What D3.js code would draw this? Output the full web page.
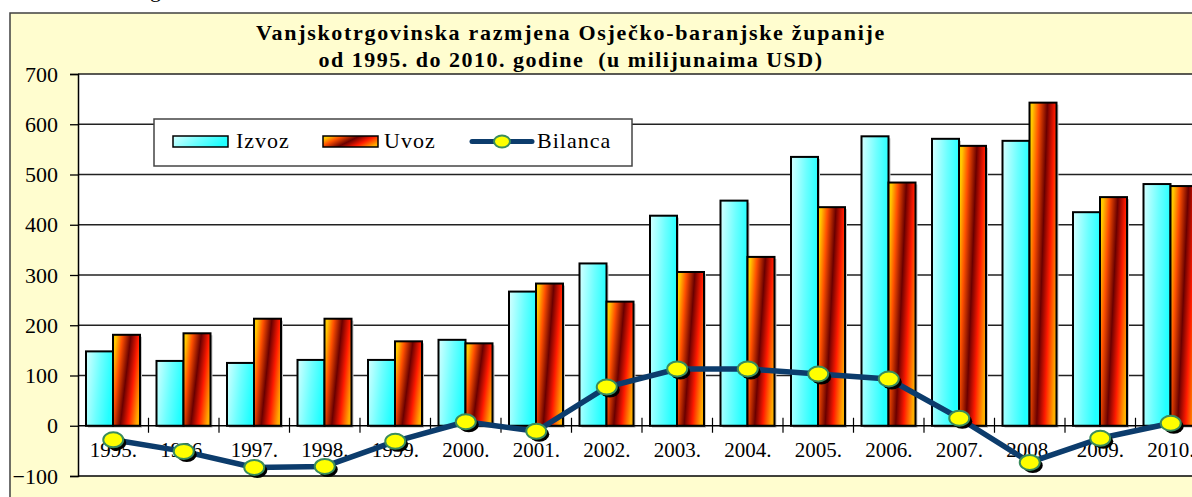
<!DOCTYPE html>
<html>
<head>
<meta charset="utf-8">
<script src="https://cdn.jsdelivr.net/npm/d3@7"></script>
<style>
  html, body { margin: 0; padding: 0; background: #fff; overflow: hidden; }
  text { font-family: "Liberation Serif", "Times New Roman", serif; white-space: pre; }
</style>
</head>
<body>
<svg id="chart" width="1192" height="497"></svg>
<script>
const years = ['1995.', '1996.', '1997.', '1998.', '1999.', '2000.', '2001.', '2002.',
  '2003.', '2004.', '2005.', '2006.', '2007.', '2008.', '2009.', '2010.']
const izvoz = [148, 129, 125, 131, 131, 171, 267, 323, 418, 448, 535, 576, 571, 567, 425, 481]
const uvoz = [181, 184, 213, 213, 168, 164, 283, 247, 306, 336, 435, 484, 557, 643, 455, 477]
const bilanca = [-28, -51, -83, -81, -31, 8, -11, 77, 113, 113, 103, 93, 15, -73, -25, 5]
const yTicks = [-100, 0, 100, 200, 300, 400, 500, 600, 700]
const titleLines = ['Vanjskotrgovinska razmjena Osječko-baranjske županije',
  'od 1995. do 2010. godine  (u milijunaima USD)']
const seriesNames = ['Izvoz', 'Uvoz', 'Bilanca']

const svg = d3.select('#chart')
const defs = svg.append('defs')

// gradients for the bars
const gIz = defs.append('linearGradient').attr('id', 'gIzvoz')
  .attr('x1', 0).attr('y1', 0).attr('x2', 1).attr('y2', 0.25)
gIz.append('stop').attr('offset', 0).attr('stop-color', '#d6ffff')
gIz.append('stop').attr('offset', 0.55).attr('stop-color', '#6cffff')
gIz.append('stop').attr('offset', 1).attr('stop-color', '#22ffff')

const gUv = defs.append('linearGradient').attr('id', 'gUvoz')
  .attr('x1', 0).attr('y1', 0.3).attr('x2', 1).attr('y2', 0.7)
gUv.append('stop').attr('offset', 0).attr('stop-color', '#ffc800')
gUv.append('stop').attr('offset', 0.2).attr('stop-color', '#ff5000')
gUv.append('stop').attr('offset', 0.47).attr('stop-color', '#6a0000')
gUv.append('stop').attr('offset', 0.72).attr('stop-color', '#ff1a00')
gUv.append('stop').attr('offset', 1).attr('stop-color', '#ffae00')

// outer chart area
svg.append('rect')
  .attr('x', 10).attr('y', 13).attr('width', 1200).attr('height', 500)
  .attr('fill', '#fffdcf').attr('stroke', '#404040').attr('stroke-width', 1.5)

// bit of text from the page above the chart
svg.append('text').attr('x', 150).attr('y', -3).attr('font-size', 22).text('g')

const pLeft = 78, pRight = 1206, pTop = 74, pBottom = 476

const x = d3.scaleBand().domain(years).range([pLeft, pRight])
const xs = d3.scaleBand().domain(['Izvoz', 'Uvoz']).range([8, x.bandwidth() - 8.5])
const y = d3.scaleLinear().domain([-100, 700]).range([pBottom, pTop])

svg.append('rect')
  .attr('x', pLeft).attr('y', pTop).attr('width', pRight - pLeft).attr('height', pBottom - pTop)
  .attr('fill', '#fff')

// grid lines
svg.append('g')
  .selectAll('line')
  .data(yTicks.filter(d => d > 0))
  .join('line')
  .attr('x1', pLeft).attr('x2', pRight)
  .attr('y1', d => y(d)).attr('y2', d => y(d))
  .attr('stroke', '#222').attr('stroke-width', 1.3)

// title
svg.append('g')
  .selectAll('text')
  .data(titleLines)
  .join('text')
  .attr('x', 571)
  .attr('y', (d, i) => 40 + i * 27)
  .attr('text-anchor', 'middle')
  .attr('font-size', 22).attr('font-weight', 'bold')
  .attr('letter-spacing', (d, i) => i === 0 ? 1.7 : 1.5)
  .text(d => d)

// bars
const rows = years.map((yr, i) => ({ yr, Izvoz: izvoz[i], Uvoz: uvoz[i] }))
const bars = svg.append('g')
  .selectAll('g')
  .data(rows)
  .join('g')
  .attr('transform', d => `translate(${x(d.yr)},0)`)

const barData = d => ['Izvoz', 'Uvoz'].map(k => ({ k, v: d[k] }))

bars.selectAll('rect.shadow')
  .data(barData)
  .join('rect')
  .attr('class', 'shadow')
  .attr('x', d => xs(d.k) + 2).attr('y', d => y(d.v) + 2)
  .attr('width', xs.bandwidth()).attr('height', d => y(0) - y(d.v))
  .attr('fill', '#c8c8c8')

bars.selectAll('rect.bar')
  .data(barData)
  .join('rect')
  .attr('class', 'bar')
  .attr('x', d => xs(d.k)).attr('y', d => y(d.v))
  .attr('width', xs.bandwidth()).attr('height', d => y(0) - y(d.v))
  .attr('fill', d => d.k === 'Izvoz' ? 'url(#gIzvoz)' : 'url(#gUvoz)')
  .attr('stroke', '#000').attr('stroke-width', 2)

// y axis
const yAxis = svg.append('g')
  .attr('transform', `translate(${pLeft},0)`)
  .call(d3.axisLeft(y).tickValues(yTicks).tickSize(8).tickPadding(12).tickFormat(d3.format('d')))
yAxis.select('.domain').attr('stroke', '#000').attr('stroke-width', 1.5)
yAxis.selectAll('.tick line').attr('stroke', '#000').attr('stroke-width', 1.3)
yAxis.selectAll('.tick text')
  .attr('font-size', 22).attr('fill', '#000')

// bottom border of plot
svg.append('line')
  .attr('x1', pLeft).attr('x2', pRight).attr('y1', pBottom).attr('y2', pBottom)
  .attr('stroke', '#000').attr('stroke-width', 1.5)

// category axis on the zero line
svg.append('line')
  .attr('x1', pLeft).attr('x2', pRight).attr('y1', y(0)).attr('y2', y(0))
  .attr('stroke', '#000').attr('stroke-width', 1.5)
svg.append('g')
  .selectAll('line')
  .data(years.slice(1))
  .join('line')
  .attr('x1', d => x(d)).attr('x2', d => x(d))
  .attr('y1', y(0) - 8).attr('y2', y(0) + 7)
  .attr('stroke', '#000').attr('stroke-width', 1.2)

svg.append('g')
  .selectAll('text')
  .data(years)
  .join('text')
  .attr('x', d => x(d) + x.bandwidth() / 2)
  .attr('y', 457)
  .attr('text-anchor', 'middle')
  .attr('font-size', 21)
  .text(d => d)

// bilanca line
const pts = years.map((yr, i) => [x(yr) + x.bandwidth() / 2, y(bilanca[i])])
svg.append('path')
  .attr('d', d3.line()(pts))
  .attr('fill', 'none').attr('stroke', '#0c3c6c').attr('stroke-width', 5.5)
  .attr('stroke-linejoin', 'round')

const marks = svg.append('g')
marks.selectAll('ellipse.sh')
  .data(pts)
  .join('ellipse')
  .attr('class', 'sh')
  .attr('cx', d => d[0] + 3).attr('cy', d => d[1] + 3)
  .attr('rx', 10).attr('ry', 7.5)
  .attr('fill', '#000')
marks.selectAll('ellipse.pt')
  .data(pts)
  .join('ellipse')
  .attr('class', 'pt')
  .attr('cx', d => d[0]).attr('cy', d => d[1])
  .attr('rx', 10).attr('ry', 7.5)
  .attr('fill', '#ffff00').attr('stroke', '#3a8c5c').attr('stroke-width', 2)

// legend
const legend = svg.append('g')
legend.append('rect')
  .attr('x', 154).attr('y', 119).attr('width', 478).attr('height', 47)
  .attr('fill', '#fff').attr('stroke', '#444').attr('stroke-width', 1.5)

const legX = [173, 323, 472]
legend.append('rect')
  .attr('x', legX[0]).attr('y', 136).attr('width', 55).attr('height', 11)
  .attr('fill', 'url(#gIzvoz)').attr('stroke', '#000').attr('stroke-width', 1.5)
legend.append('rect')
  .attr('x', legX[1]).attr('y', 136).attr('width', 55).attr('height', 11)
  .attr('fill', 'url(#gUvoz)').attr('stroke', '#000').attr('stroke-width', 1.5)
legend.append('line')
  .attr('x1', legX[2]).attr('x2', legX[2] + 60).attr('y1', 141.5).attr('y2', 141.5)
  .attr('stroke', '#0c3c6c').attr('stroke-width', 5).attr('stroke-linecap', 'round')
legend.append('ellipse')
  .attr('cx', legX[2] + 30).attr('cy', 141.5).attr('rx', 8).attr('ry', 6)
  .attr('fill', '#ffff00').attr('stroke', '#3a8c5c').attr('stroke-width', 2)

legend.selectAll('text')
  .data(seriesNames)
  .join('text')
  .attr('x', (d, i) => [236, 384, 537][i])
  .attr('y', 148)
  .attr('font-size', 22)
  .attr('letter-spacing', 1)
  .text(d => d)
</script>
</body>
</html>
